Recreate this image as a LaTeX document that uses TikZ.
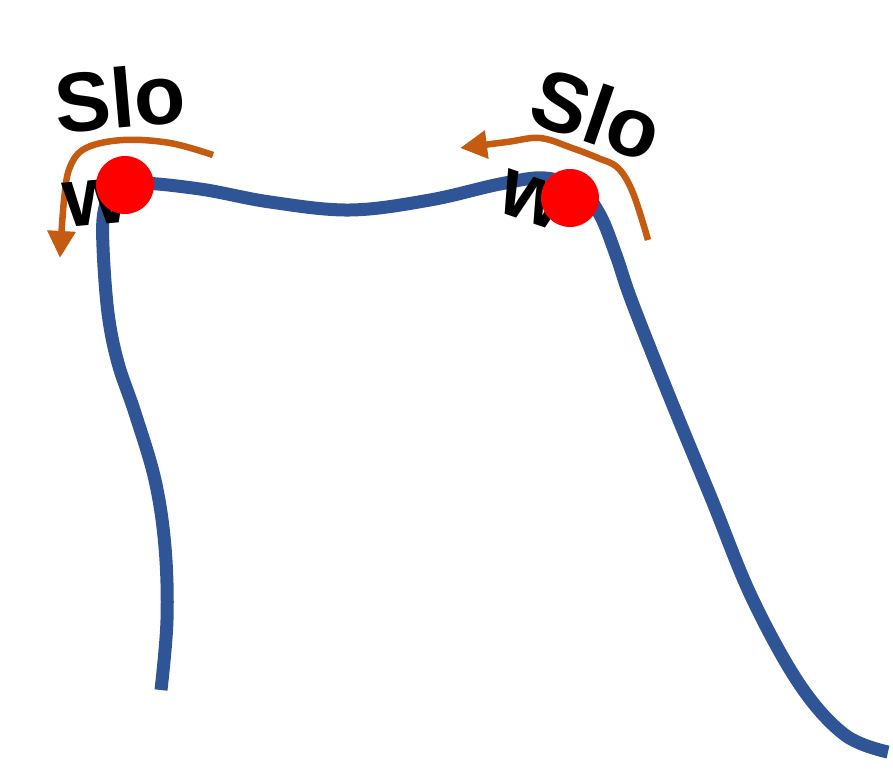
\documentclass[tikz,border=0pt]{standalone}
\usepackage{fontspec}
\setmainfont{Liberation Sans}
\usetikzlibrary{arrows.meta}
\definecolor{curveblue}{HTML}{2F5597}
\definecolor{arroworange}{HTML}{C55A11}
\tikzset{
  curve/.style={curveblue, line width=13pt, line join=round},
  turn/.style={arroworange, line width=6.5pt, -{Triangle[length=27pt,width=27pt]}},
  dot/.style={circle, fill=red, minimum size=58pt, inner sep=0pt},
  lbl/.style={font=\fontsize{84}{95}\selectfont\bfseries, inner sep=0pt, anchor=north west, align=left}
}
\begin{document}
\begin{tikzpicture}[x=1pt,y=-1pt]
\useasboundingbox (0,0) rectangle (893,770);
% blue curve
\draw[curve] plot[smooth, tension=0.6] coordinates {
 (161,690) (167,620) (165,547) (155,480) (135,413) (118,363) (108,313) (103,247) (104,212) (113,192) (135,183)
 (200,189) (270,202) (350,210) (430,200) (500,184) (545,178) (580,190) (600,215) (616,255) (632,302)
 (670,398) (712,500) (752,598) (800,685) (845,735) (888,752)};
% orange arrows
\coordinate (la) at (213,155);
\coordinate (lb) at (60,258);
\draw[turn] plot[smooth, tension=0.6] coordinates {(la) (170,143) (123,140) (86,148) (70,167) (64,200) (lb)};
\coordinate (ra) at (648,240);
\coordinate (rb) at (460,148);
\draw[turn] plot[smooth, tension=0.6] coordinates {(ra) (633,193) (618,168) (598,158) (572,148) (540,138) (507,142) (rb)};
% labels
\begin{scope}[shift={(57,132)}, rotate=5]
  \node[lbl, rotate=5] (l) at (0,-60) {Slo\\w};
\end{scope}
\begin{scope}[shift={(526,120)}, rotate=-19]
  \node[lbl, rotate=-19] (r) at (0,-60) {Slo\\w};
\end{scope}
% red dots
\node[dot] (d1) at (125,185) {};
\node[dot] (d2) at (570,198) {};
\end{tikzpicture}
\end{document}
